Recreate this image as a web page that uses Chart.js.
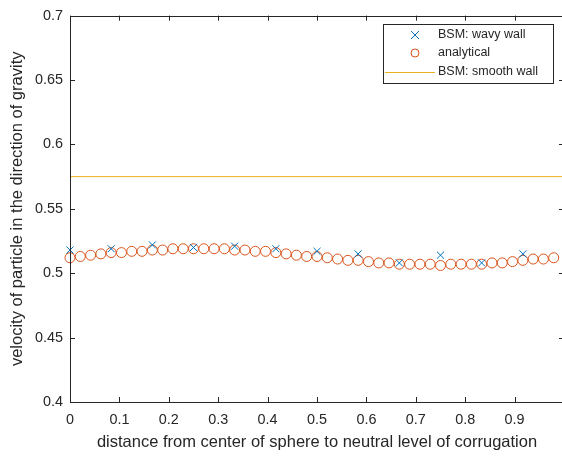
<!DOCTYPE html>
<html>
<head>
<meta charset="utf-8">
<script src="https://cdn.jsdelivr.net/npm/chart.js@4/dist/chart.umd.min.js"></script>
<style>
  html, body { margin: 0; padding: 0; background: #fff; overflow: hidden; }
  #wrap { position: absolute; left: 0; top: 0; width: 570px; height: 457px; }
</style>
</head>
<body>
<div id="wrap"><canvas id="chart"></canvas></div>
<script>
  // wavy wall BSM samples (crosses)
  var wavyX = [0, 0.0833, 0.1667, 0.25, 0.3333, 0.4167, 0.5, 0.5833, 0.6667, 0.75, 0.8333, 0.9167];
  var wavyY = [0.518, 0.519, 0.522, 0.520, 0.521, 0.519, 0.517, 0.515, 0.508, 0.514, 0.508, 0.515];

  // analytical solution (circles)
  var anaX = [0, 0.0208, 0.0417, 0.0625, 0.0833, 0.1042, 0.125, 0.1458, 0.1667, 0.1875, 0.2083, 0.2292,
              0.25, 0.2708, 0.2917, 0.3125, 0.3333, 0.3542, 0.375, 0.3958, 0.4167, 0.4375, 0.4583, 0.4792,
              0.5, 0.5208, 0.5417, 0.5625, 0.5833, 0.6042, 0.625, 0.6458, 0.6667, 0.6875, 0.7083, 0.7292,
              0.75, 0.7708, 0.7917, 0.8125, 0.8333, 0.8542, 0.875, 0.8958, 0.9167, 0.9375, 0.9583, 0.9792];
  var anaY = [0.512, 0.513, 0.514, 0.515, 0.516, 0.516, 0.517, 0.517, 0.518, 0.518, 0.519, 0.519,
              0.519, 0.519, 0.519, 0.519, 0.518, 0.518, 0.517, 0.517, 0.516, 0.515, 0.514, 0.513,
              0.513, 0.512, 0.511, 0.510, 0.510, 0.509, 0.508, 0.508, 0.507, 0.507, 0.507, 0.507,
              0.506, 0.507, 0.507, 0.507, 0.507, 0.508, 0.508, 0.509, 0.510, 0.511, 0.511, 0.512];

  // smooth wall BSM (constant line)
  var smoothX = [0, 1];
  var smoothY = [0.575, 0.575];

  var yTicks = [0.4, 0.45, 0.5, 0.55, 0.6, 0.65, 0.7];
  var xTicks = [0, 0.1, 0.2, 0.3, 0.4, 0.5, 0.6, 0.7, 0.8, 0.9, 1];

  var legendLabels = ['BSM: wavy wall', 'analytical', 'BSM: smooth wall'];

  var BLUE = '#0072BD', ORANGE = '#D95319', YELLOW = '#EDB120', INK = '#262626';
  var FONT = '"Liberation Sans", Arial, sans-serif';

  function pts(xs, ys) {
    return xs.map(function (x, i) { return { x: x, y: ys[i] }; });
  }

  // inward ticks + box, like matlab axes
  var boxPlugin = {
    id: 'box',
    afterDraw: function (chart) {
      var ctx = chart.ctx, a = chart.chartArea;
      var sx = chart.scales.x, sy = chart.scales.y;
      ctx.save();
      ctx.strokeStyle = INK;
      ctx.lineWidth = 1;
      ctx.beginPath();
      ctx.rect(Math.round(a.left) + 0.5, Math.round(a.top) + 0.5,
               Math.round(a.right - a.left), Math.round(a.bottom - a.top));
      xTicks.forEach(function (v) {
        var px = Math.round(sx.getPixelForValue(v)) + 0.5;
        ctx.moveTo(px, a.bottom); ctx.lineTo(px, a.bottom - 5);
        ctx.moveTo(px, a.top); ctx.lineTo(px, a.top + 5);
      });
      yTicks.forEach(function (v) {
        var py = Math.round(sy.getPixelForValue(v)) + 0.5;
        ctx.moveTo(a.left, py); ctx.lineTo(a.left + 5, py);
        ctx.moveTo(a.right, py); ctx.lineTo(a.right - 5, py);
      });
      ctx.stroke();

      // legend box
      var lx = 383, ly = 24, lw = 170, lh = 59;
      ctx.fillStyle = '#fff';
      ctx.fillRect(lx, ly, lw, lh);
      ctx.strokeRect(lx + 0.5, ly + 0.5, lw, lh);
      var rows = [35, 53, 72];
      ctx.font = '12.5px ' + FONT;
      ctx.textBaseline = 'middle';
      ctx.fillStyle = INK;
      legendLabels.forEach(function (t, i) { ctx.fillText(t, 438, rows[i]); });
      ctx.lineWidth = 1;
      ctx.strokeStyle = BLUE;
      ctx.beginPath();
      ctx.moveTo(411, rows[0] - 4); ctx.lineTo(419, rows[0] + 4);
      ctx.moveTo(419, rows[0] - 4); ctx.lineTo(411, rows[0] + 4);
      ctx.stroke();
      ctx.strokeStyle = ORANGE;
      ctx.beginPath();
      ctx.arc(415, rows[1], 4, 0, Math.PI * 2);
      ctx.stroke();
      ctx.strokeStyle = YELLOW;
      ctx.beginPath();
      ctx.moveTo(385, rows[2] + 0.5); ctx.lineTo(435, rows[2] + 0.5);
      ctx.stroke();
      ctx.restore();
    }
  };

  new Chart(document.getElementById('chart'), {
    type: 'scatter',
    data: {
      datasets: [
        {
          label: legendLabels[0],
          data: pts(wavyX, wavyY),
          pointStyle: 'crossRot',
          pointRadius: 5,
          borderColor: BLUE,
          borderWidth: 1,
          showLine: false,
          clip: false
        },
        {
          label: legendLabels[1],
          data: pts(anaX, anaY),
          pointStyle: 'circle',
          pointRadius: 5,
          borderColor: ORANGE,
          backgroundColor: 'rgba(0,0,0,0)',
          borderWidth: 1,
          showLine: false,
          clip: false
        },
        {
          label: legendLabels[2],
          data: pts(smoothX, smoothY),
          showLine: true,
          pointRadius: 0,
          borderColor: YELLOW,
          borderWidth: 1
        }
      ]
    },
    options: {
      responsive: true,
      maintainAspectRatio: false,
      animation: false,
      layout: { padding: { left: 0, right: 4, top: 11, bottom: 0 } },
      plugins: { legend: { display: false }, tooltip: { enabled: false } },
      scales: {
        x: {
          type: 'linear',
          min: 0, max: 1,
          afterBuildTicks: function (s) { s.ticks = xTicks.map(function (v) { return { value: v }; }); },
          afterFit: function (s) { s.height = 55; s.paddingRight = 0; s.paddingLeft = 0; },
          grid: { display: false, drawTicks: false },
          border: { display: false },
          ticks: { color: INK, font: { family: FONT, size: 14.4 }, padding: 9, maxRotation: 0, autoSkip: false,
                    callback: function (v) { return v >= 1 ? '' : String(+v.toFixed(2)); } },
          title: { display: true, text: 'distance from center of sphere to neutral level of corrugation',
                   color: INK, font: { family: FONT, size: 16.5 }, padding: { top: 0, bottom: 5 } }
        },
        y: {
          min: 0.4, max: 0.7,
          afterBuildTicks: function (s) { s.ticks = yTicks.map(function (v) { return { value: v }; }); },
          afterFit: function (s) { s.width = 70; },
          grid: { display: false, drawTicks: false },
          border: { display: false },
          ticks: { color: INK, font: { family: FONT, size: 14.4 }, padding: 7, autoSkip: false,
                    callback: function (v) { return String(+v.toFixed(2)); } },
          title: { display: true, text: 'velocity of particle in the direction of gravity',
                   color: INK, font: { family: FONT, size: 16.5 }, padding: { top: 8, bottom: 0 } }
        }
      }
    },
    plugins: [boxPlugin]
  });
</script>
</body>
</html>
